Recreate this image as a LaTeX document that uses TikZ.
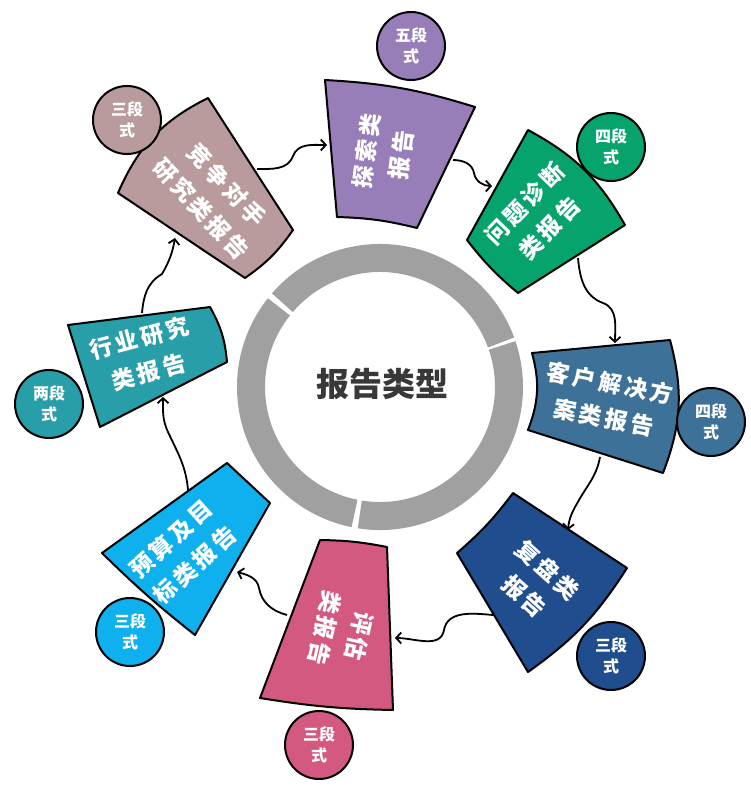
\documentclass[tikz,border=0pt]{standalone}
\usepackage{fontspec}
\setmainfont{Noto Sans CJK SC}
\newfontfamily\fanfont{Noto Sans CJK SC}[LetterSpace=14]
\usetikzlibrary{arrows.meta}

\definecolor{cRival}{RGB}{185,155,157}
\definecolor{cExplore}{RGB}{152,126,184}
\definecolor{cDiagnose}{RGB}{6,163,108}
\definecolor{cSolution}{RGB}{61,113,151}
\definecolor{cReview}{RGB}{32,77,142}
\definecolor{cAssess}{RGB}{212,89,128}
\definecolor{cBudget}{RGB}{14,176,238}
\definecolor{cIndustry}{RGB}{40,158,168}
\definecolor{ringgray}{RGB}{160,160,160}

\begin{document}
\begin{tikzpicture}[x=1pt, y=1pt,
  fan/.style={draw=black, line width=2pt, line join=round},
  fantext/.style={text=white, align=center, font=\fanfont\fontsize{23}{35}\selectfont\bfseries},
  badge/.style={circle, draw=black, line width=2pt, minimum size=68pt, inner sep=0pt,
    text=white, align=center, font=\fontsize{16}{21}\selectfont\bfseries},
  flow/.style={line width=1.8pt, -{Straight Barb[length=5pt,width=11pt]}}]

\useasboundingbox (0,0) rectangle (750,-792);

% central ring, three segments with thin gaps
\def\rr{129}
\coordinate (O) at (380,-387);
\foreach \a/\b in {20.2/139.2, 141.6/258.6, 261/378.8}
  \draw[ringgray, line width=28pt] ([shift={(\a:\rr)}]O) arc[start angle=\a, end angle=\b, radius=\rr];
\node[font=\fontsize{33}{40}\selectfont\bfseries, text=black!78] (hub) at (382,-384) {报告类型};

% ---- fan pieces (outer edge first, counter-clockwise) ----
% competitor research (upper left)
\filldraw[fan, fill=cRival] (208,-98) to[bend right=20] (118,-193) -- (245,-278) to[bend right=10] (293,-230) -- cycle;
\node[fantext, rotate=-47] (rival) at (214,-197) {竞争对手\\研究类报告};
\node[badge, fill=cRival] (rival-tag) at (127,-120) {三段\\式};

% exploration (top)
\filldraw[fan, fill=cExplore] (475,-107) to[bend right=7] (325,-80) -- (337,-217) to[bend left=6] (417,-228) -- cycle;
\node[fantext, rotate=83] (explore) at (384,-153) {探索类\\报告};
\node[badge, fill=cExplore] (explore-tag) at (411,-46) {五段\\式};

% problem diagnosis (upper right)
\filldraw[fan, fill=cDiagnose] (625,-225) to[bend right=16] (528,-130) -- (467,-240) to[bend right=6] (518,-293) -- cycle;
\node[fantext, rotate=46] (diagnose) at (537,-216) {问题诊断\\类报告};
\node[badge, fill=cDiagnose] (diagnose-tag) at (611,-147) {四段\\式};

% client solution (right)
\filldraw[fan, fill=cSolution] (663,-473) to[bend right=18] (670,-340) -- (532,-353) to[bend left=18] (528,-430) -- cycle;
\node[fantext, rotate=-11] (solution) at (607,-400) {客户解决方\\案类报告};
\node[badge, fill=cSolution] (solution-tag) at (711,-422) {四段\\式};

% review (lower right)
\filldraw[fan, fill=cReview] (528,-672) to[bend right=11] (627,-568) -- (513,-493) to[bend left=6] (457,-553) -- cycle;
\node[fantext, rotate=-42] (review) at (536,-583) {复盘类\\报告};
\node[badge, fill=cReview] (review-tag) at (611,-656) {三段\\式};

% assessment (bottom)
\filldraw[fan, fill=cAssess] (260,-698) to[bend right=4] (393,-710) -- (387,-547) to[bend right=5] (320,-540) -- cycle;
\node[fantext, rotate=-103] (assess) at (342,-632) {评估\\类报告};
\node[badge, fill=cAssess] (assess-tag) at (319,-745) {三段\\式};

% budget and targets (lower left)
\filldraw[fan, fill=cBudget] (102,-553) to[bend right=3] (195,-635) -- (270,-503) -- (227,-463) -- cycle;
\node[fantext, rotate=42] (budget) at (183,-552) {预算及目\\标类报告};
\node[badge, fill=cBudget] (budget-tag) at (130,-632) {三段\\式};

% industry research (left)
\filldraw[fan, fill=cIndustry] (68,-325) -- (100,-427) -- (227,-362) to[bend right=12] (210,-307) -- cycle;
\node[fantext, rotate=15] (industry) at (144,-355) {行业研究\\类报告};
\node[badge, fill=cIndustry] (industry-tag) at (49,-404) {两段\\式};

% ---- connector ends on the fan edges ----
\coordinate (rival-out) at (257,-169);
\coordinate (explore-in) at (327,-145);
\coordinate (explore-out) at (453,-160);
\coordinate (diagnose-in) at (492,-186);
\coordinate (diagnose-out) at (578,-258);
\coordinate (solution-in) at (615,-343);
\coordinate (solution-out) at (600,-457);
\coordinate (review-in) at (568,-530);
\coordinate (review-out) at (493,-615);
\coordinate (assess-in) at (395,-638);
\coordinate (assess-out) at (287,-615);
\coordinate (budget-in) at (237,-572);
\coordinate (budget-out) at (188,-490);
\coordinate (industry-in) at (163,-397);
\coordinate (industry-out) at (142,-313);
\coordinate (rival-in) at (175,-238);

% wavy arrows, clockwise
\draw[flow] (rival-out) to[out=0,in=-110] (293,-156) to[out=70,in=180] (explore-in);
\draw[flow] (explore-out) to[out=0,in=100] (474,-173) to[out=-80,in=180] (diagnose-in);
\draw[flow] (diagnose-out) to[out=-85,in=160] (603,-303) to[out=-20,in=90] (solution-in);
\draw[flow] (solution-out) to[out=-100,in=60] (579,-500) to[out=-120,in=85] (review-in);
\draw[flow] (review-out) to[out=175,in=80] (444,-630) to[out=-100,in=0] (assess-in);
\draw[flow] (assess-out) to[out=165,in=-80] (259,-588) to[out=100,in=-15] (budget-in);
\draw[flow] (budget-out) to[out=95,in=-65] (168,-432) to[out=115,in=-90] (industry-in);
\draw[flow] (industry-out) to[out=85,in=-150] (162,-274) to[out=60,in=-100] (rival-in);

\end{tikzpicture}
\end{document}
